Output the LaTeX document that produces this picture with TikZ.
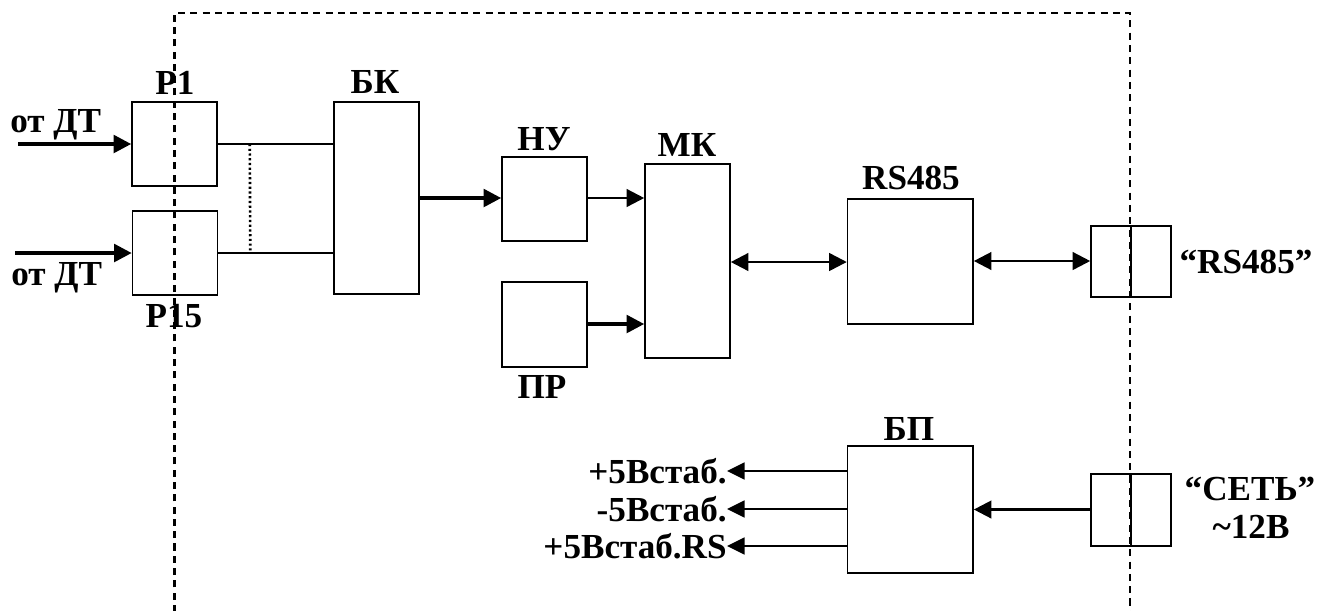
\documentclass[tikz,border=0pt]{standalone}
\usepackage{fontspec}
\setmainfont{Liberation Serif}
\usetikzlibrary{arrows.meta,positioning,calc}

\begin{document}
\begin{tikzpicture}[x=0.02cm, y=-0.02cm,
    every node/.style={font=\bfseries\fontsize{20}{22}\selectfont, inner sep=0pt},
    blk/.style={draw, line width=0.9pt},
    sig/.style={line width=2pt, -{Triangle[length=10pt, width=10pt]}},
    lnk/.style={line width=1.4pt, -{Triangle[length=10pt, width=10pt]}},
    bus/.style={line width=1.4pt, {Triangle[length=10pt, width=10pt]}-{Triangle[length=10pt, width=10pt]}},
    outv/.style={line width=1.4pt, -{Triangle[length=10pt, width=9.5pt]}}]
  \useasboundingbox (0,0) rectangle (1318,610);
  % Housing
  \draw[line width=1.2pt, dash pattern=on 4pt off 3pt]
    (174.5,612) -- (174.5,13) -- (1130,13) -- (1130,612);
  % Relays
  \node[blk, minimum width=1.7cm, minimum height=1.68cm] (r1) at (174.5,144) {};
  \node[blk, minimum width=1.7cm, minimum height=1.68cm] (r15) at (175,253) {};
  \node (r1lbl) at (175,82.5) {Р1};
  \node (r15lbl) at (174,316) {Р15};
  \node[anchor=base west] (in1lbl) at (10,132) {от ДТ};
  \node[anchor=base west] (in15lbl) at (11,285) {от ДТ};
  \coordinate (in1) at (18,144);
  \coordinate (in15) at (15,253);
  % Blocks
  \node[blk, minimum width=1.7cm, minimum height=3.84cm] (bk) at (376.5,198) {};
  \node[blk, minimum width=1.7cm, minimum height=1.68cm] (nu) at (544.5,199) {};
  \node[blk, minimum width=1.7cm, minimum height=1.7cm] (pr) at (544.5,324.5) {};
  \node[blk, minimum width=1.7cm, minimum height=3.88cm] (mk) at (687.5,261) {};
  \node[blk, minimum width=2.51cm, minimum height=2.5cm] (rs) at (910.3,261.5) {};
  \node[blk, minimum width=2.51cm, minimum height=2.54cm] (bp) at (910.3,509.5) {};
  \node (bklbl) at (375,82) {БК};
  \node (nulbl) at (544,139) {НУ};
  \node (mklbl) at (687,145) {МК};
  \node (prlbl) at (542,387) {ПР};
  \node (rslbl) at (911,178) {RS485};
  \node (bplbl) at (909,429) {БП};
  % Connectors
  \node[blk, minimum width=1.6cm, minimum height=1.42cm] (x1) at (1131,261.5) {};
  \node[blk, minimum width=1.6cm, minimum height=1.44cm] (x2) at (1131,510) {};
  \draw[line width=0.9pt] (x1.north) -- (x1.south);
  \draw[line width=0.9pt] (x2.north) -- (x2.south);
  \node (x1lbl) at (1246,262) {“RS485”};
  \node (x2lbl) at (1250,489) {“СЕТЬ”};
  \node (x2volt) at (1251,526.5) {\textasciitilde12В};
  % Signals
  \draw[sig] (in1) -- (r1.west |- in1);
  \draw[sig] (in15) -- (r15.west |- in15);
  \draw[line width=1pt] (r1.east) -- (r1.east -| bk.west);
  \draw[line width=1pt] (r15.east) -- (r15.east -| bk.west);
  \draw[line width=1.5pt, dash pattern=on 1.2pt off 1.5pt]
    ([xshift=0.64cm]r1.east) -- ([xshift=0.64cm]r15.east);
  \draw[sig] (bk.east) -- (bk.east -| nu.west);
  \draw[lnk] (nu.east |- 0,198) -- (mk.west |- 0,198);
  \draw[sig] (pr.east |- 0,324) -- (mk.west |- 0,324);
  \draw[bus] (mk.east |- 0,262) -- (rs.west |- 0,262);
  \draw[bus] (rs.east |- 0,261) -- (x1.west |- 0,261);
  \draw[lnk] (x2.west |- 0,509.5) -- (bp.east |- 0,509.5);
  % Supply outputs
  \node[anchor=east] (v1) at (727,471) {+5Встаб.};
  \node[anchor=east] (v2) at (727,509) {-5Встаб.};
  \node[anchor=east] (v3) at (727,546) {+5Встаб.RS};
  \draw[outv] (v1.east -| bp.west) -- (v1.east);
  \draw[outv] (v2.east -| bp.west) -- (v2.east);
  \draw[outv] (v3.east -| bp.west) -- (v3.east);
\end{tikzpicture}
\end{document}
